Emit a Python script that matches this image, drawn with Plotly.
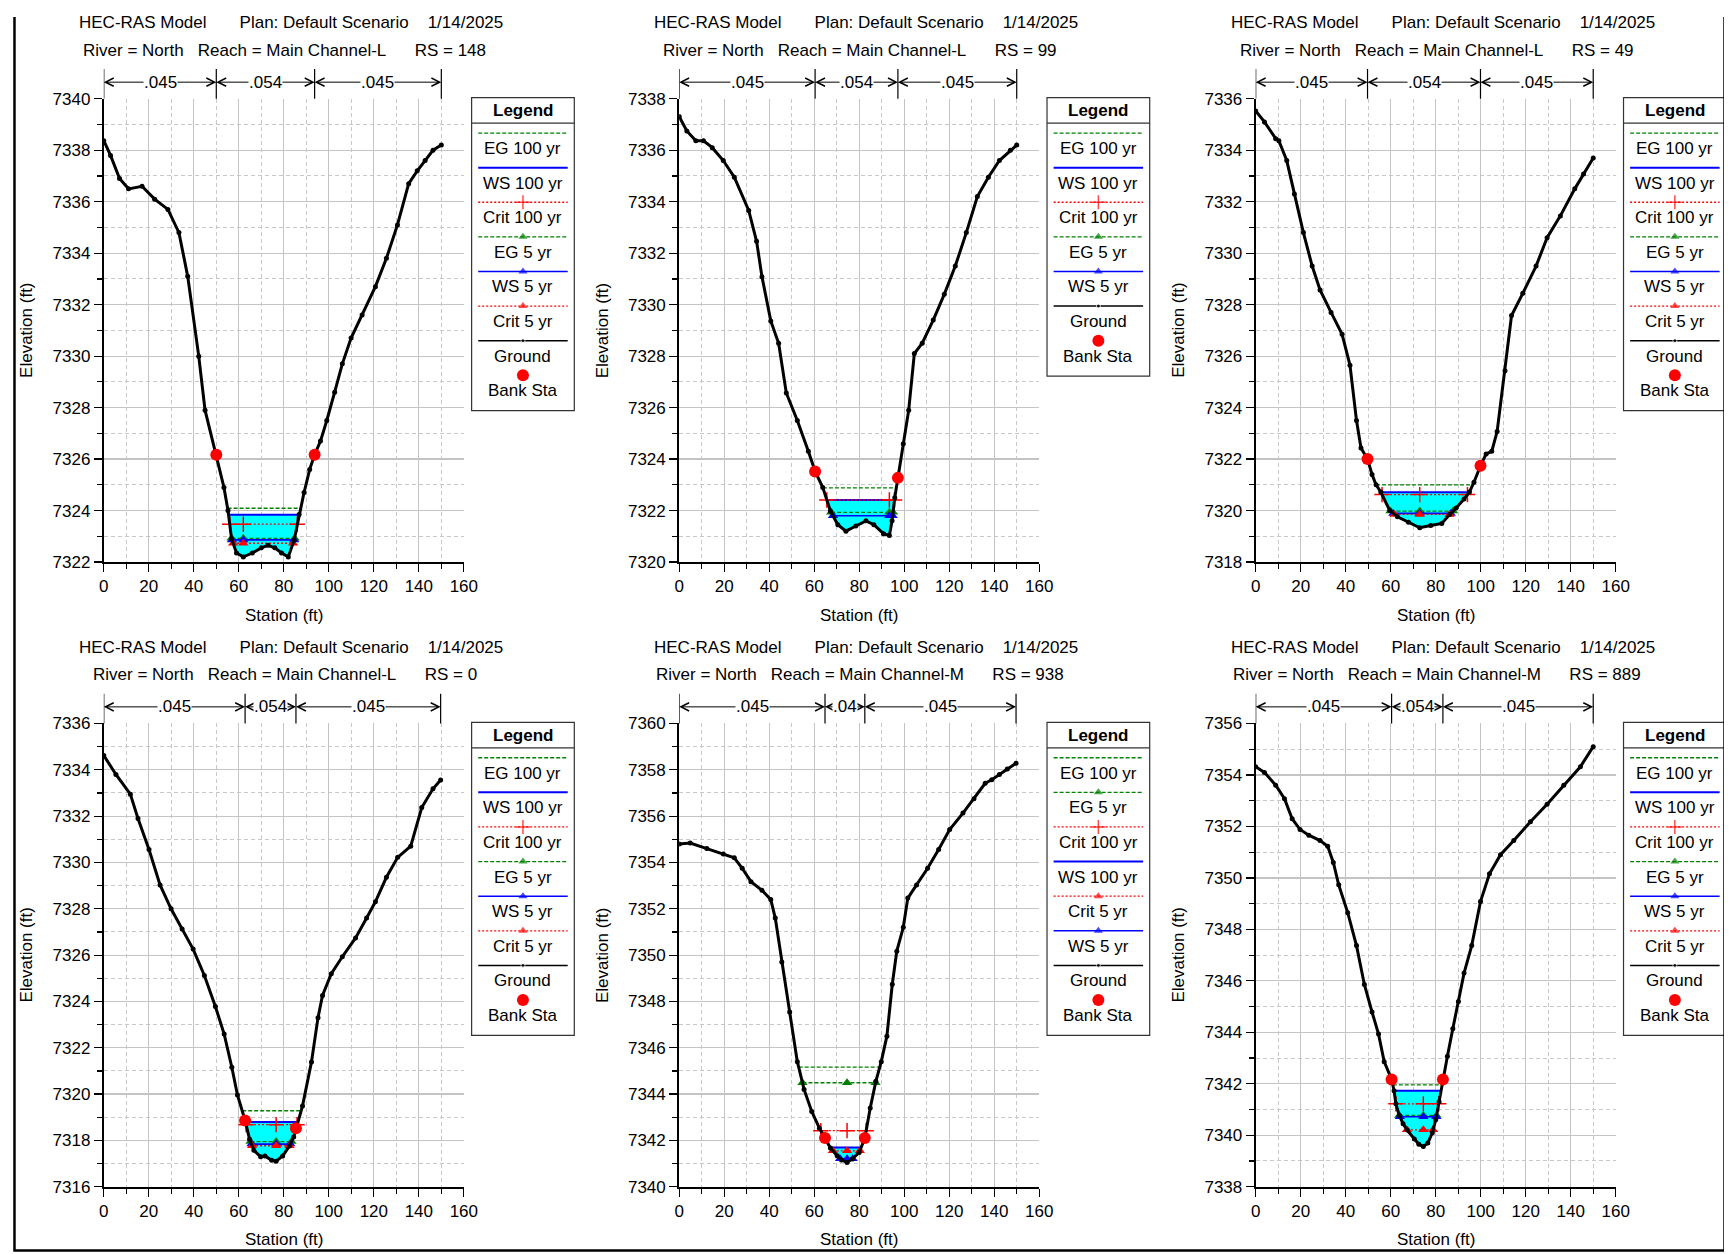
import numpy as np
import plotly.graph_objects as go

W, H = 1732, 1254
FONT = "Liberation Sans, Arial, sans-serif"

# ---------------- data ----------------
PROFILES = ["EG 100 yr", "WS 100 yr", "Crit 100 yr", "EG 5 yr", "WS 5 yr", "Crit 5 yr"]

RS_LIST = ["148", "99", "49", "0", "938", "889"]
REACH_LIST = ["Main Channel-L", "Main Channel-L", "Main Channel-L", "Main Channel-L",
              "Main Channel-M", "Main Channel-M"]
Y_RANGES = [(7322, 7340), (7320, 7338), (7318, 7336), (7316, 7336), (7340, 7360), (7338, 7356)]
N_VALUES = [(".045", ".054", ".045"), (".045", ".054", ".045"), (".045", ".054", ".045"),
            (".045", ".054", ".045"), (".045", ".04", ".045"), (".045", ".054", ".045")]

# RS 148
P1_STA = [0, 3, 7, 11, 17, 22.6, 28.5, 33.4, 37.3, 42.2, 45.0, 50.0, 53.4, 55.2, 56.8, 59.0, 62.0,
          66.0, 70.0, 73.0, 76.0, 79.0, 82.0, 84.6, 86.8, 89.0, 91.5, 93.7, 96.3, 99.1, 102.6, 106.0,
          109.9, 114.8, 120.7, 125.6, 130.5, 135.5, 139.3, 142.8, 146.3, 150.0]
P1_ELEV = [7338.37, 7337.8, 7336.9, 7336.5, 7336.6, 7336.1, 7335.7, 7334.8, 7333.1, 7330.0, 7327.9,
           7326.17, 7324.9, 7324.0, 7322.9, 7322.35, 7322.2, 7322.35, 7322.55, 7322.65, 7322.55,
           7322.35, 7322.2, 7322.85, 7323.85, 7324.7, 7325.6, 7326.17, 7326.7, 7327.5, 7328.6,
           7329.7, 7330.7, 7331.6, 7332.7, 7333.8, 7335.1, 7336.7, 7337.2, 7337.6, 7338.0, 7338.2]
P1_BANKS = [50.0, 93.7]
P1_LEVELS = [7324.09, 7323.84, 7323.47, 7322.92, 7322.86, 7322.73]

# RS 99
P2_STA = [0, 3.4, 7.4, 10.8, 14.7, 19.6, 24.5, 30.9, 34.4, 36.8, 40.7, 44.2, 47.6, 52.5, 57.4, 60.4,
          63.8, 67.2, 70.5, 74.1, 78.5, 83.0, 86.5, 90.8, 93.4, 94.6, 95.8, 97.2, 99.6, 102.0, 104.5,
          108.0, 112.9, 117.8, 122.7, 127.6, 132.5, 137.4, 142.3, 147.2, 150.0]
P2_ELEV = [7337.31, 7336.75, 7336.37, 7336.37, 7336.1, 7335.6, 7334.95, 7333.66, 7332.46, 7331.08,
           7329.37, 7328.5, 7326.57, 7325.5, 7324.3, 7323.52, 7322.9, 7321.98, 7321.45, 7321.2,
           7321.4, 7321.6, 7321.45, 7321.1, 7321.03, 7321.6, 7322.5, 7323.27, 7324.6, 7325.9,
           7328.1, 7328.5, 7329.4, 7330.4, 7331.5, 7332.8, 7334.2, 7334.95, 7335.6, 7336.0, 7336.2]
P2_BANKS = [60.4, 97.2]
P2_LEVELS = [7322.88, 7322.41, 7322.41, 7321.93, 7321.8, None]

# RS 49
P3_STA = [0, 3.9, 8.9, 10.3, 13.8, 17.2, 21.2, 25.1, 28.6, 33.5, 38.4, 41.9, 44.8, 46.8, 49.7, 51.7,
          53.5, 55.6, 59.6, 63.0, 67.9, 72.9, 77.8, 82.7, 86.2, 89.1, 92.6, 95.0, 97.0, 99.9, 102.4,
          104.9, 107.3, 110.8, 113.7, 118.7, 124.6, 129.5, 135.4, 141.8, 145.7, 150.0]
P3_ELEV = [7335.53, 7335.1, 7334.45, 7334.37, 7333.6, 7332.3, 7330.8, 7329.5, 7328.57, 7327.7,
           7326.85, 7325.65, 7323.5, 7322.43, 7322.0, 7321.4, 7321.0, 7320.72, 7320.0, 7319.76,
           7319.55, 7319.33, 7319.42, 7319.5, 7319.85, 7320.1, 7320.45, 7320.72, 7321.1, 7321.74,
           7322.2, 7322.3, 7323.07, 7325.43, 7327.58, 7328.44, 7329.5, 7330.6, 7331.45, 7332.5,
           7333.08, 7333.7]
P3_BANKS = [49.7, 99.9]
P3_LEVELS = [7321.0, 7320.71, 7320.62, 7319.98, 7319.89, 7319.85]

# RS 0
P4_STA = [0, 5.4, 11.8, 15.2, 20.1, 25.0, 29.9, 34.8, 39.7, 44.7, 49.6, 53.5, 56.9, 59.4, 62.8, 64.8,
          66.7, 69.7, 71.6, 74.6, 76.6, 79.5, 82.5, 84.4, 85.4, 88.3, 92.3, 95.2, 97.2, 101.1, 106.0,
          111.9, 116.8, 120.7, 125.6, 130.6, 136.4, 141.3, 146.3, 149.7]
P4_ELEV = [7334.62, 7333.8, 7332.95, 7331.9, 7330.56, 7329.03, 7328.0, 7327.13, 7326.26, 7325.12,
           7323.78, 7322.59, 7321.16, 7319.96, 7318.86, 7318.05, 7317.57, 7317.29, 7317.33, 7317.14,
           7317.1, 7317.33, 7317.76, 7318.15, 7318.52, 7319.48, 7321.39, 7323.3, 7324.26, 7325.2,
           7325.93, 7326.74, 7327.6, 7328.3, 7329.36, 7330.22, 7330.7, 7332.37, 7333.18, 7333.56]
P4_BANKS = [62.8, 85.4]
P4_LEVELS = [7319.28, 7318.79, 7318.68, 7317.95, 7317.84, 7317.77]

# RS 938
P5_STA = [0, 4.9, 12.3, 19.6, 24.5, 28.0, 31.9, 36.8, 40.7, 42.7, 45.6, 49.1, 52.5, 55.5, 58.9, 62.3,
          64.8, 67.2, 70.2, 72.1, 74.6, 77.0, 80.0, 82.5, 84.9, 87.4, 89.8, 92.3, 94.7, 96.7, 99.6,
          101.6, 105.5, 110.4, 115.3, 120.2, 126.1, 131.0, 136.0, 138.9, 142.3, 145.8, 149.7]
P5_ELEV = [7354.8, 7354.84, 7354.6, 7354.37, 7354.2, 7353.75, 7353.17, 7352.8, 7352.4, 7351.6,
           7349.7, 7347.54, 7345.4, 7344.2, 7343.25, 7342.53, 7342.1, 7341.67, 7341.34, 7341.15,
           7341.05, 7341.2, 7341.48, 7342.1, 7343.4, 7344.55, 7345.4, 7346.5, 7348.74, 7350.17,
           7351.2, 7352.46, 7353.03, 7353.75, 7354.56, 7355.42, 7356.13, 7356.75, 7357.42, 7357.57,
           7357.8, 7358.04, 7358.28]
P5_BANKS = [64.8, 82.5]
P5_LEVELS = [7345.16, 7341.69, 7342.42, 7344.49, 7341.21, 7341.55]

# RS 889
P6_STA = [0, 3.9, 8.9, 12.8, 16.2, 19.7, 23.6, 28.6, 32.0, 34.5, 36.9, 40.9, 44.8, 48.3, 51.7, 54.6,
          57.1, 60.4, 61.5, 62.3, 63.8, 65.5, 67.3, 70.5, 72.5, 74.5, 76.5, 78.5, 80.0, 81.5, 83.2,
          85.2, 87.6, 90.1, 92.6, 96.0, 99.9, 103.9, 108.8, 114.7, 122.1, 129.5, 136.9, 144.3, 150.0]
P6_ELEV = [7354.32, 7354.1, 7353.6, 7353.08, 7352.3, 7351.88, 7351.66, 7351.45, 7351.23, 7350.6,
           7349.73, 7348.65, 7347.37, 7345.86, 7344.79, 7343.93, 7342.86, 7342.17, 7341.73, 7341.22,
           7340.77, 7340.45, 7340.2, 7339.85, 7339.65, 7339.56, 7339.7, 7340.1, 7340.6, 7341.3,
           7342.17, 7343.07, 7344.14, 7345.2, 7346.3, 7347.37, 7349.08, 7350.16, 7350.9, 7351.45,
           7352.18, 7352.86, 7353.6, 7354.32, 7355.1]
P6_BANKS = [60.4, 83.2]
P6_LEVELS = [7341.96, 7341.73, 7341.22, 7340.77, 7340.72, 7340.21]

LEG_STD = ["EG 100 yr", "WS 100 yr", "Crit 100 yr", "EG 5 yr", "WS 5 yr", "Crit 5 yr", "Ground", "Bank Sta"]
LEG_P2 = ["EG 100 yr", "WS 100 yr", "Crit 100 yr", "EG 5 yr", "WS 5 yr", "Ground", "Bank Sta"]
LEG_P5 = ["EG 100 yr", "EG 5 yr", "Crit 100 yr", "WS 100 yr", "Crit 5 yr", "WS 5 yr", "Ground", "Bank Sta"]

PANELS = [
    dict(sta=P1_STA, el=P1_ELEV, banks=P1_BANKS, levels=P1_LEVELS, legend=LEG_STD),
    dict(sta=P2_STA, el=P2_ELEV, banks=P2_BANKS, levels=P2_LEVELS, legend=LEG_P2),
    dict(sta=P3_STA, el=P3_ELEV, banks=P3_BANKS, levels=P3_LEVELS, legend=LEG_STD),
    dict(sta=P4_STA, el=P4_ELEV, banks=P4_BANKS, levels=P4_LEVELS, legend=LEG_STD),
    dict(sta=P5_STA, el=P5_ELEV, banks=P5_BANKS, levels=P5_LEVELS, legend=LEG_P5),
    dict(sta=P6_STA, el=P6_ELEV, banks=P6_BANKS, levels=P6_LEVELS, legend=LEG_STD),
]

# ---------------- styles / layout geometry ----------------
STYLE = {
    "EG 100 yr": dict(color="#008000", dash="4px,2px", width=1.3, symbol=None),
    "WS 100 yr": dict(color="#0000ff", dash="solid", width=2.0, symbol=None),
    "Crit 100 yr": dict(color="#ff0000", dash="2px,2px", width=1.3, symbol="cross-thin"),
    "EG 5 yr": dict(color="#008000", dash="4px,2px", width=1.3, symbol="triangle-up"),
    "WS 5 yr": dict(color="#0000ff", dash="solid", width=1.6, symbol="triangle-up"),
    "Crit 5 yr": dict(color="#ff0000", dash="2px,2px", width=1.3, symbol="triangle-up"),
}
# target pixel geometry of the picture
COL_X = [103.8, 679.3, 1255.9]
ROW_Y = [98.3, 722.4]
PW, PH = 360.1, 462.8
NBSP = "\u00a0"

# the photographed page comes out slightly reduced and offset; pre-compensate page coordinates
AX, BX = 0.9892, 13.0
AY, BY = 0.9839, 16.6


def px(t):
    return (t - BX) / AX


def py(t):
    return (t - BY) / AY


fig = go.Figure()


def cross(sta, el, level, i0, step):
    i = i0
    while 0 <= i + step < len(sta):
        j = i + step
        if el[j] >= level:
            t = (level - el[i]) / (el[j] - el[i])
            return sta[i] + t * (sta[j] - sta[i]), j
        i = j
    return sta[i], i + step


def marker_style(sym, color, size):
    if sym == "cross-thin":
        return dict(symbol=sym, size=size + 2, color=color, line=dict(color=color, width=1.5))
    return dict(symbol=sym, size=size, color=color, line=dict(width=0))


shapes = []
annotations = []
layout_axes = {}
tf = dict(family=FONT, size=17, color="black")

for k, p in enumerate(PANELS):
    col, row = k % 3, k // 3
    x0, y0 = COL_X[col], ROW_Y[row]
    sfx = "" if k == 0 else str(k + 1)
    xa, ya = "x" + sfx, "y" + sfx
    sta = np.array(p["sta"], dtype=float)
    el = np.array(p["el"], dtype=float)
    it = int(np.argmin(el))

    # water fill under WS 100
    lev = p["levels"][1]
    xl, il = cross(sta, el, lev, it, -1)
    xr, ir = cross(sta, el, lev, it, +1)
    fx = [xl] + list(sta[il + 1:ir]) + [xr, xl]
    fy = [lev] + list(el[il + 1:ir]) + [lev, lev]
    fig.add_trace(go.Scatter(x=fx, y=fy, mode="lines", fill="toself", fillcolor="#00ffff",
                             line=dict(width=0), xaxis=xa, yaxis=ya, hoverinfo="skip"))

    # profile lines
    for name, lv in zip(PROFILES, p["levels"]):
        if lv is None:
            continue
        st = STYLE[name]
        a, _ = cross(sta, el, lv, it, -1)
        b, _ = cross(sta, el, lv, it, +1)
        tr = dict(x=[a, sta[it], b], y=[lv, lv, lv], xaxis=xa, yaxis=ya,
                  line=dict(color=st["color"], dash=st["dash"], width=st["width"]), hoverinfo="skip")
        if st["symbol"]:
            tr["mode"] = "lines+markers"
            tr["marker"] = marker_style(st["symbol"], st["color"], 9)
        else:
            tr["mode"] = "lines"
        fig.add_trace(go.Scatter(**tr))

    # ground
    fig.add_trace(go.Scatter(x=sta, y=el, mode="lines+markers", xaxis=xa, yaxis=ya,
                             line=dict(color="black", width=3.0),
                             marker=dict(size=5, color="black"), hoverinfo="skip"))
    # bank stations
    bx = np.array(p["banks"])
    fig.add_trace(go.Scatter(x=bx, y=np.interp(bx, sta, el), mode="markers", xaxis=xa, yaxis=ya,
                             marker=dict(size=12, color="red"), hoverinfo="skip"))

    # axes
    tickfont = dict(family=FONT, size=17, color="black")
    common = dict(ticks="outside", ticklen=8, tickwidth=1.2, tickcolor="black", showline=True,
                  linecolor="black", linewidth=2, showgrid=True, gridcolor="#c4c4c4", gridwidth=1.2,
                  zeroline=False, tickfont=tickfont, fixedrange=True)
    layout_axes["xaxis" + sfx] = dict(
        domain=[px(x0) / W, px(x0 + PW) / W], range=[0, 160], dtick=20, tick0=0, anchor=ya,
        minor=dict(dtick=10, ticklen=5, tickwidth=1.2, tickcolor="black", showgrid=True,
                   gridcolor="#c8c8c8", griddash="4px,3px", gridwidth=1), **common)
    yr = Y_RANGES[k]
    layout_axes["yaxis" + sfx] = dict(
        domain=[1 - py(y0 + PH) / H, 1 - py(y0) / H], range=list(yr), dtick=2, tick0=0, anchor=xa,
        minor=dict(dtick=1, ticklen=5, tickwidth=1.2, tickcolor="black", showgrid=True,
                   gridcolor="#c8c8c8", griddash="4px,3px", gridwidth=1), **common)

    # header text
    annotations.append(dict(xref="x7", yref="y7", x=px(x0 + 187), y=py(y0 - 76.2), showarrow=False,
                            text="HEC-RAS Model" + NBSP * 7 + "Plan: Default Scenario" + NBSP * 4 + "1/14/2025",
                            font=tf, xanchor="center", yanchor="middle"))
    annotations.append(dict(xref="x7", yref="y7", x=px(x0 + 181), y=py(y0 - 48.6), showarrow=False,
                            text="River = North" + NBSP * 3 + "Reach = " + REACH_LIST[k] + NBSP * 6 + "RS = " + RS_LIST[k],
                            font=tf, xanchor="center", yanchor="middle"))
    # axis titles (kept inside the page)
    annotations.append(dict(xref="x7", yref="y7", x=px(x0 + PW / 2), y=min(py(y0 + PH + 53), H - 11),
                            showarrow=False, text="Station (ft)", font=tf, xanchor="center",
                            yanchor="middle"))
    annotations.append(dict(xref="x7", yref="y7", x=px(x0 - 77.3), y=py(y0 + PH / 2), showarrow=False,
                            text="Elevation (ft)", font=tf, textangle=-90, xanchor="center", yanchor="middle"))

    # n-value annotation
    ny = py(y0 - 16.6)
    bounds = [0.0, p["banks"][0], p["banks"][1], float(sta[-1])]
    for b in bounds:
        shapes.append(dict(type="line", xref=xa, yref="y7", x0=b, x1=b, y0=py(y0 - 29.8), y1=py(y0),
                           line=dict(color="black", width=1.2), layer="above"))
    for si in range(3):
        a, b = bounds[si], bounds[si + 1]
        m = (a + b) / 2
        for tgt in (a, b):
            annotations.append(dict(xref=xa, yref="y7", axref=xa, ayref="y7", x=tgt, y=ny, ax=m, ay=ny,
                                    text="", showarrow=True, arrowhead=5, arrowsize=1.6, arrowwidth=1,
                                    arrowcolor="black", standoff=0, startstandoff=0))
    for si in range(3):
        a, b = bounds[si], bounds[si + 1]
        annotations.append(dict(xref=xa, yref="y7", x=(a + b) / 2, y=ny, showarrow=False,
                                text=N_VALUES[k][si], font=tf, bgcolor="white", borderpad=0,
                                xanchor="center", yanchor="middle"))

    # legend box
    lx = x0 + 367.9
    ly0 = y0 - 1.1
    n = len(p["legend"])
    lh = 1.1046 * (64 + 31.3 * (n - 1))
    lw = 102.7
    shapes.append(dict(type="rect", xref="x7", yref="y7", x0=px(lx), x1=min(px(lx + lw), W - 1),
                       y0=py(ly0), y1=py(ly0 + lh), line=dict(color="#333333", width=1.2),
                       fillcolor="white", layer="below"))
    shapes.append(dict(type="line", xref="x7", yref="y7", x0=px(lx), x1=min(px(lx + lw), W - 1),
                       y0=py(ly0 + 25.4), y1=py(ly0 + 25.4), line=dict(color="#333333", width=1.2),
                       layer="below"))
    annotations.append(dict(xref="x7", yref="y7", x=px(lx + lw / 2), y=py(ly0 + 12.9), showarrow=False,
                            text="<b>Legend</b>", font=tf, xanchor="center", yanchor="middle"))
    for i, name in enumerate(p["legend"]):
        yy = py(ly0 + 35.35 + 34.57 * i)
        xs = [px(lx + 6.6), px(lx + lw / 2), px(lx + lw - 6.6)]
        if name in STYLE:
            st = STYLE[name]
            tr = dict(x=xs, y=[yy] * 3, xaxis="x7", yaxis="y7", hoverinfo="skip", cliponaxis=False,
                      line=dict(color=st["color"], dash=st["dash"], width=st["width"]))
            if st["symbol"]:
                ms = marker_style(st["symbol"], st["color"], 8)
                ms["size"] = [0, ms["size"], 0]
                tr["marker"] = ms
                tr["mode"] = "lines+markers"
            else:
                tr["mode"] = "lines"
            fig.add_trace(go.Scatter(**tr))
        elif name == "Ground":
            fig.add_trace(go.Scatter(x=xs, y=[yy] * 3, xaxis="x7", yaxis="y7", mode="lines+markers",
                                     line=dict(color="black", width=1.5), cliponaxis=False,
                                     marker=dict(size=[0, 4, 0], color="black"), hoverinfo="skip"))
        else:
            fig.add_trace(go.Scatter(x=[xs[1]], y=[yy], xaxis="x7", yaxis="y7", mode="markers",
                                     marker=dict(size=12, color="red"), cliponaxis=False, hoverinfo="skip"))
        annotations.append(dict(xref="x7", yref="y7", x=xs[1], y=py(ly0 + 35.35 + 34.57 * i + 15.5),
                                showarrow=False, text=name, font=tf, xanchor="center", yanchor="middle"))

# outer frame: left, bottom and right edges (the top edge would fall on the header text)
fl, fr = max(px(6), 1.5), min(px(1729), W - 1.5)
fb = min(py(1251), H - 1.5)
shapes.append(dict(type="path", xref="x7", yref="y7",
                   path="M %.2f,0 L %.2f,%.2f L %.2f,%.2f L %.2f,0" % (fl, fl, fb, fr, fb, fr),
                   line=dict(color="black", width=2.5), layer="above"))

layout_axes["xaxis7"] = dict(domain=[0, 1], range=[0, W], visible=False, fixedrange=True, anchor="y7")
layout_axes["yaxis7"] = dict(domain=[0, 1], range=[H, 0], visible=False, fixedrange=True, anchor="x7")

fig.update_layout(width=W, height=H, autosize=False, margin=dict(l=0, r=0, t=0, b=0),
                  paper_bgcolor="white", plot_bgcolor="rgba(0,0,0,0)", showlegend=False,
                  shapes=shapes, annotations=annotations, font=dict(family=FONT, size=17, color="black"),
                  **layout_axes)

fig.write_html("out.html", config={"displayModeBar": False, "staticPlot": True})
